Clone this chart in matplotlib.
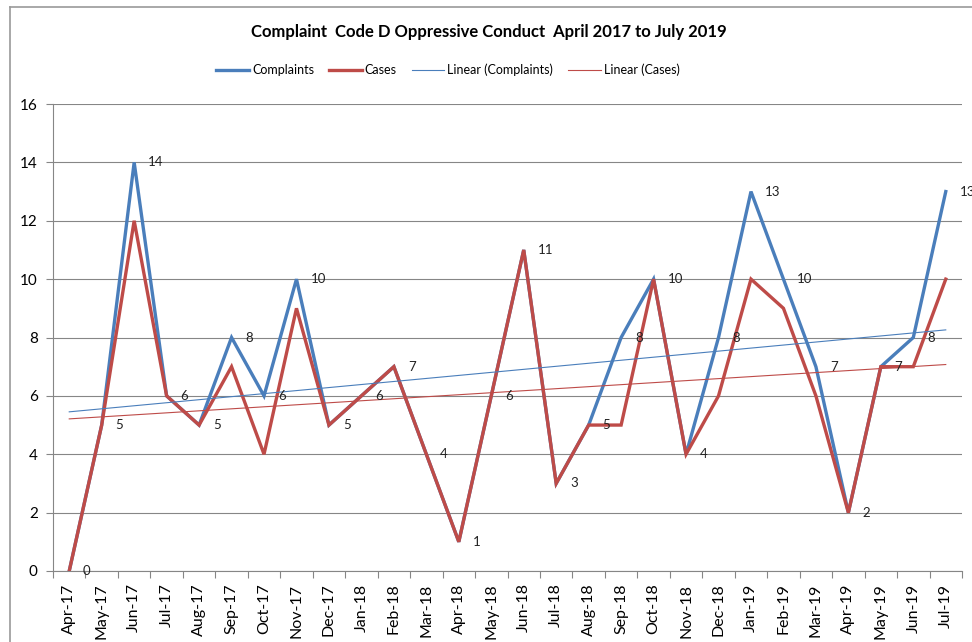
import numpy as np
import matplotlib
matplotlib.use("Agg")
import matplotlib.pyplot as plt
from matplotlib.lines import Line2D

months = ["Apr-17", "May-17", "Jun-17", "Jul-17", "Aug-17", "Sep-17", "Oct-17", "Nov-17",
          "Dec-17", "Jan-18", "Feb-18", "Mar-18", "Apr-18", "May-18", "Jun-18", "Jul-18",
          "Aug-18", "Sep-18", "Oct-18", "Nov-18", "Dec-18", "Jan-19", "Feb-19", "Mar-19",
          "Apr-19", "May-19", "Jun-19", "Jul-19"]
complaints = [0, 5, 14, 6, 5, 8, 6, 10, 5, 6, 7, 4, 1, 6, 11, 3, 5, 8, 10, 4, 8, 13, 10, 7, 2, 7, 8, 13]
cases = [0, 5, 12, 6, 5, 7, 4, 9, 5, 6, 7, 4, 1, 6, 11, 3, 5, 5, 10, 4, 6, 10, 9, 6, 2, 7, 7, 10]
title = "Complaint  Code D Oppressive Conduct  April 2017 to July 2019"

plt.rcParams['font.family'] = ['Lato', 'DejaVu Sans']

BLUE = "#4A7EBB"
RED = "#BE4B48"
GRID = "#868686"

fig = plt.figure(figsize=(9.72, 6.42), dpi=100)
ax = fig.add_axes([53/972, 1-571/642, (962-53)/972, (571-104)/642])

x = np.arange(len(months))
ax.plot(x, complaints, color=BLUE, lw=2.4, solid_joinstyle='miter', zorder=4)
ax.plot(x, cases, color=RED, lw=2.4, solid_joinstyle='miter', zorder=5)

pc = np.polyfit(x, complaints, 1)
pk = np.polyfit(x, cases, 1)
ax.plot(x, np.polyval(pc, x), color=BLUE, lw=0.8, zorder=6)
ax.plot(x, np.polyval(pk, x), color=RED, lw=0.8, zorder=6)

for xi, v in zip(x, complaints):
    ax.annotate(str(v), (xi, v), xytext=(10, 0), textcoords='offset points',
                ha='left', va='center', fontsize=9.5, color='#222222',
                annotation_clip=False, zorder=7)

ax.set_xlim(-0.5, len(months) - 0.5)
ax.set_ylim(0, 16)
ax.set_yticks(range(0, 17, 2))
ax.yaxis.grid(True, color=GRID, lw=0.8)
ax.set_axisbelow(True)
ax.set_xticks(x)
ax.set_xticklabels(months, rotation=90, fontsize=11.5)
ax.set_xticks(np.arange(-0.5, len(months)), minor=True)
ax.tick_params(axis='x', which='major', length=0, pad=9)
ax.tick_params(axis='x', which='minor', length=5, color=GRID, width=0.8, direction='out')
ax.tick_params(axis='y', length=5, color=GRID, width=0.8, pad=6, labelsize=11)
for s in ['top', 'right']:
    ax.spines[s].set_visible(False)
for s in ['left', 'bottom']:
    ax.spines[s].set_color(GRID)
    ax.spines[s].set_linewidth(0.8)

fig.text(489/972, 1-32/642, title, ha='center', va='center', fontsize=12, fontweight='bold')

handles = [Line2D([], [], color=BLUE, lw=2.4), Line2D([], [], color=RED, lw=2.4),
           Line2D([], [], color=BLUE, lw=0.8), Line2D([], [], color=RED, lw=0.8)]
labels = ["Complaints", "Cases", "Linear (Complaints)", "Linear (Cases)"]
fig.legend(handles, labels, loc='center', bbox_to_anchor=(448/972, 1-70/642), ncol=4,
           frameon=False, fontsize=9, handlelength=2.6, handletextpad=0.25, columnspacing=1.2)

# chart border (cropped on right/bottom)
fig.add_artist(Line2D([10/972, 10/972], [0, 1-6.5/642], color='#9a9a9a', lw=1.2, transform=fig.transFigure))
fig.add_artist(Line2D([10/972, 1], [1-6.5/642, 1-6.5/642], color='#9a9a9a', lw=1.2, transform=fig.transFigure))

fig.savefig("out.png", dpi=100)
